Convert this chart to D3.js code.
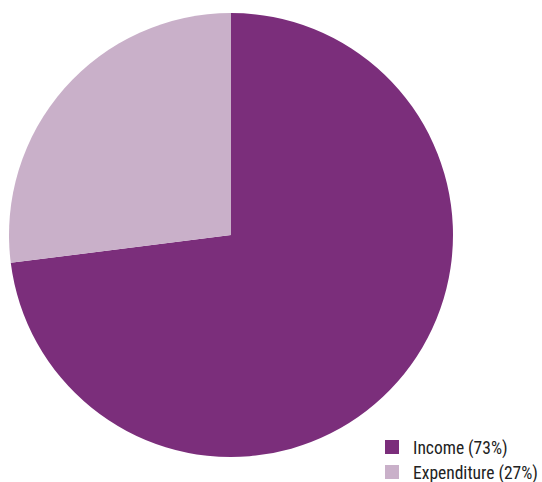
<!DOCTYPE html>
<html>
<head>
<meta charset="utf-8">
<script src="https://cdn.jsdelivr.net/npm/d3@7"></script>
<style>
  html, body { margin: 0; padding: 0; background: #fff; }
  svg { display: block; }
</style>
</head>
<body>
<svg id="chart" width="542" height="482"></svg>
<script>
// Budget split
const categories = ["Income", "Expenditure"];
const shares = [73, 27];
const colors = ["#7b2e7b", "#c9b0c9"];

const svg = d3.select("#chart");
const cx = 231, cy = 235, radius = 222;

const pie = d3.pie().sort(null).value(d => d.value);
const arc = d3.arc().innerRadius(0).outerRadius(radius);
const data = categories.map((c, i) => ({ name: c, value: shares[i], color: colors[i] }));

svg.append("g")
  .attr("transform", `translate(${cx},${cy})`)
  .selectAll("path")
  .data(pie(data))
  .join("path")
  .attr("d", arc)
  .attr("fill", d => d.data.color);

// Legend
const legend = svg.append("g").attr("transform", "translate(385,440)");
const item = legend.selectAll("g")
  .data(data)
  .join("g")
  .attr("transform", (d, i) => `translate(0,${i * 25})`);
item.append("rect")
  .attr("width", 14).attr("height", 14)
  .attr("fill", d => d.color);
item.append("text")
  .attr("x", 28).attr("y", 14)
  .attr("font-family", "'Liberation Sans Narrow', 'Roboto Condensed', 'DejaVu Sans Condensed', sans-serif")
  .attr("font-size", 17.5)
  .attr("fill", "#222")
  .text(d => `${d.name} (${d.value}%)`);
</script>
</body>
</html>
